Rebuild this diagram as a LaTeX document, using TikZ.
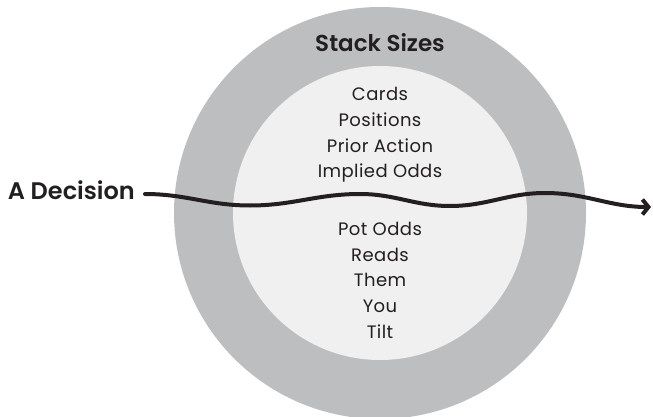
\documentclass[tikz,border=0pt]{standalone}
\usepackage{fontspec}
\setmainfont{Poppins}
\newfontfamily\semib{Poppins SemiBold}
\usetikzlibrary{arrows.meta}
\definecolor{ringgray}{HTML}{BDBEC0}
\definecolor{innergray}{HTML}{F0F0F0}
\definecolor{ink}{HTML}{231F20}
\tikzset{
  item/.style={anchor=base, text=ink, font=\addfontfeatures{LetterSpace=2.5}\fontsize{18}{20}\selectfont, inner sep=0pt},
  title/.style={anchor=base, text=ink, font=\semib\fontsize{23}{28}\selectfont, inner sep=0pt},
  wave/.style={draw=ink, line width=4pt, line cap=round, -{Straight Barb[length=6pt,width=15pt,line cap=butt]}}
}
\begin{document}
\begin{tikzpicture}[x=1pt,y=1pt]
\useasboundingbox (0,0) rectangle (653,416);
\fill[ringgray] (380,203) circle[radius=206];
\fill[innergray] (380,203) circle[radius=147];
\node[title] (stack) at (380,364) {Stack Sizes};
\node[item] (cards) at (380,316) {Cards};
\node[item] (pos) at (380,290) {Positions};
\node[item] (prior) at (380,264) {Prior Action};
\node[item] (implied) at (380,238.5) {Implied Odds};
\node[item] (pot) at (380,181) {Pot Odds};
\node[item] (reads) at (380,155) {Reads};
\node[item] (them) at (380,129.5) {Them};
\node[item] (you) at (380,104) {You};
\node[item] (tilt) at (380,78) {Tilt};
\node[title, anchor=base east, font=\semib\fontsize{24}{28}\selectfont] (dec) at (135,217) {A Decision};
\coordinate (wstart) at (145,222);
\coordinate (wend) at (651,209);
\draw[wave] (wstart) to[out=0,in=180] (250,210.5) to[out=0,in=180] (360,222)
  to[out=0,in=180] (450,210) to[out=0,in=180] (545,223) to[out=0,in=180] (wend);
\end{tikzpicture}
\end{document}
